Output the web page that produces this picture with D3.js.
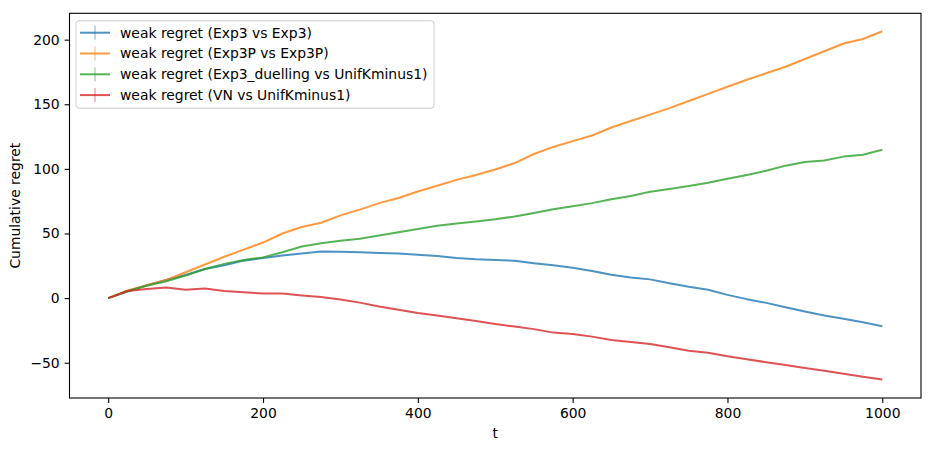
<!DOCTYPE html>
<html>
<head>
<meta charset="utf-8">
<script src="https://cdn.jsdelivr.net/npm/d3@7/dist/d3.min.js"></script>
<style>
  body { margin: 0; background: #fff; }
  text { font-family: "DejaVu Sans", sans-serif; }
</style>
</head>
<body>
<svg width="934" height="451"></svg>
<script>
(function (d3) {
  'use strict';

  // time steps (read every 25 rounds)
  const steps = d3.range(0, 1001, 25);

  const exp3 = [0, 5, 10, 14, 18, 22.5, 25.5, 29, 31, 33, 34.5, 36, 35.8, 35.5, 35, 34.5, 33.5,
    32.5, 31, 30, 29.5, 29, 27, 25.5, 23.5, 21, 18, 16, 14.5, 11.5, 8.8, 6.5, 2.5, -0.8,
    -3.7, -7, -10.3, -13.5, -16, -18.7, -21.7];
  const exp3p = [0, 6, 10, 14, 20, 26, 32, 37.5, 43, 50, 55, 58.3, 64, 68.5, 73.5, 77.5,
    82.5, 87, 91.5, 95.3, 99.5, 104.5, 111.5, 117, 121.5, 125.8, 132, 137, 142, 147, 152.5,
    158, 163.6, 169, 174, 179, 185, 191, 197, 200.5, 206.5];
  const exp3Duelling = [0, 5.5, 9.5, 13, 17.5, 22.5, 26.5, 29.5, 31.5, 35.5, 40, 42.5, 44.3,
    46, 48.5, 51, 53.5, 56, 57.8, 59.2, 61, 63.2, 65.8, 68.7, 71, 73.5, 76.5, 79, 82.3, 84.5,
    86.8, 89.3, 92.3, 95.3, 98.5, 102.5, 105.3, 106.5, 109.5, 111, 114.8];
  const vn = [0, 5.5, 7, 8.3, 6.5, 7.5, 5.5, 4.5, 3.5, 3.5, 2, 0.8, -1, -3.5, -6.5, -9, -11.5,
    -13.5, -15.5, -17.7, -20, -22, -24, -26.7, -27.8, -29.8, -32.5, -34, -35.5, -38, -40.8,
    -42.3, -45, -47.3, -49.6, -51.8, -54, -56.3, -58.5, -60.8, -63];

  const seriesNames = [
    'weak regret (Exp3 vs Exp3)',
    'weak regret (Exp3P vs Exp3P)',
    'weak regret (Exp3_duelling vs UnifKminus1)',
    'weak regret (VN vs UnifKminus1)'
  ];
  const seriesValues = [exp3, exp3p, exp3Duelling, vn];
  const colors = ['#1f77b4', '#ff7f0e', '#2ca02c', '#d62728'];

  const xTicks = [0, 200, 400, 600, 800, 1000];
  const yTicks = [-50, 0, 50, 100, 150, 200];

  const svg = d3.select('svg');

  const left = 69.5, right = 921, top = 13.3, bottom = 398;

  const x = d3.scaleLinear().domain([-50, 1050]).range([left, right]);
  const y = d3.scaleLinear().domain([-77.3, 220.4]).range([bottom, top]);

  const fontSize = 13.9;

  // lines
  const line = d3.line()
    .x((d, i) => x(steps[i]))
    .y(d => y(d));

  const plot = svg.append('g');
  seriesValues.forEach((vals, k) => {
    plot.append('path')
      .attr('d', line(vals))
      .attr('fill', 'none')
      .attr('stroke', colors[k])
      .attr('stroke-opacity', 0.8)
      .attr('stroke-width', 2)
      .attr('stroke-linejoin', 'round');
  });

  // axes
  const xAxis = svg.append('g')
    .attr('transform', `translate(0,${bottom})`)
    .call(d3.axisBottom(x).tickValues(xTicks).tickSize(4.9).tickPadding(4.9).tickFormat(d3.format('d')));
  const yAxis = svg.append('g')
    .attr('transform', `translate(${left},0)`)
    .call(d3.axisLeft(y).tickValues(yTicks).tickSize(4.9).tickPadding(4.9).tickFormat(d3.format('d')));

  [xAxis, yAxis].forEach(a => {
    a.select('.domain').remove();
    a.selectAll('line').attr('stroke', '#000').attr('stroke-width', 1.1);
    a.selectAll('text')
      .attr('fill', '#000')
      .style('font-size', fontSize + 'px')
      .style('font-family', '"DejaVu Sans", sans-serif');
  });

  // frame
  svg.append('rect')
    .attr('x', left)
    .attr('y', top)
    .attr('width', right - left)
    .attr('height', bottom - top)
    .attr('fill', 'none')
    .attr('stroke', '#000')
    .attr('stroke-width', 1.1);

  // axis labels
  svg.append('text')
    .attr('x', (left + right) / 2)
    .attr('y', 438)
    .attr('text-anchor', 'middle')
    .style('font-size', fontSize + 'px')
    .text('t');

  svg.append('text')
    .attr('transform', `translate(20,${(top + bottom) / 2}) rotate(-90)`)
    .attr('text-anchor', 'middle')
    .style('font-size', fontSize + 'px')
    .text('Cumulative regret');

  // legend
  const legend = svg.append('g')
    .attr('transform', 'translate(76,20.7)');

  legend.append('rect')
    .attr('width', 358)
    .attr('height', 87.5)
    .attr('rx', 3)
    .attr('fill', '#fff')
    .attr('fill-opacity', 0.8)
    .attr('stroke', '#cccccc')
    .attr('stroke-width', 1);

  seriesNames.forEach((name, k) => {
    const row = legend.append('g')
      .attr('transform', `translate(0,${12 + k * 20.8})`);
    row.append('line')
      .attr('x1', 4).attr('x2', 34)
      .attr('stroke', colors[k])
      .attr('stroke-opacity', 0.8)
      .attr('stroke-width', 2);
    row.append('line')
      .attr('x1', 19).attr('x2', 19)
      .attr('y1', -7).attr('y2', 7)
      .attr('stroke', colors[k])
      .attr('stroke-opacity', 0.6)
      .attr('stroke-width', 1);
    row.append('text')
      .attr('x', 44)
      .attr('dy', '0.35em')
      .style('font-size', fontSize + 'px')
      .text(name);
  });

}(d3));
</script>
</body>
</html>
